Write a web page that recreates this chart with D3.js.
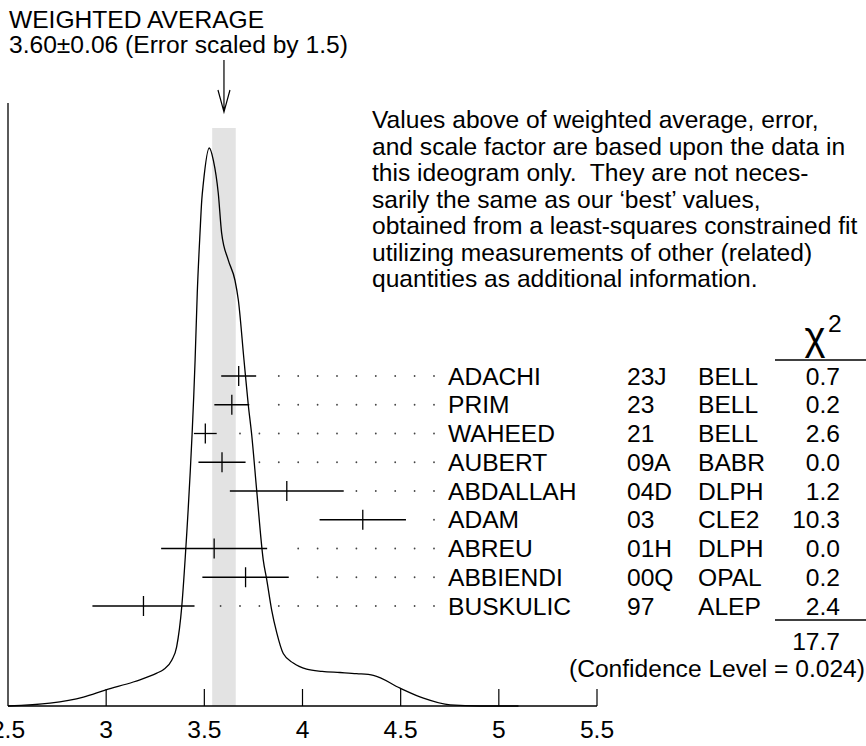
<!DOCTYPE html>
<html>
<head>
<meta charset="utf-8">
<script src="https://cdn.jsdelivr.net/npm/d3@7"></script>
<style>
  body { margin: 0; background: #fff; }
  svg { display: block; }
  text { font-family: "Liberation Sans", Arial, Helvetica, sans-serif; font-size: 24.6px; fill: #000; white-space: pre; }
</style>
</head>
<body>
<svg id="ideogram" width="866" height="746"></svg>
<script>
// measurements (value, error) as drawn in the ideogram
const authors = ["ADACHI", "PRIM", "WAHEED", "AUBERT", "ABDALLAH", "ADAM", "ABREU", "ABBIENDI", "BUSKULIC"];
const years = ["23J", "23", "21", "09A", "04D", "03", "01H", "00Q", "97"];
const experiments = ["BELL", "BELL", "BELL", "BABR", "DLPH", "CLE2", "DLPH", "OPAL", "ALEP"];
const values = [3.675, 3.64, 3.505, 3.59, 3.92, 4.307, 3.55, 3.71, 3.19];
const errors = [0.089, 0.089, 0.058, 0.12, 0.29, 0.22, 0.27, 0.22, 0.26];
const chi2 = ["0.7", "0.2", "2.6", "0.0", "1.2", "10.3", "0.0", "0.2", "2.4"];
const chi2Total = "17.7";
const confidence = "(Confidence Level = 0.024)";

const average = 3.60;
const averageError = 0.06;
const titleLines = ["WEIGHTED AVERAGE", "3.60\u00b10.06 (Error scaled by 1.5)"];
const note = [
  "Values above of weighted average, error,",
  "and scale factor are based upon the data in",
  "this ideogram only.  They are not neces-",
  "sarily the same as our \u2018best\u2019 values,",
  "obtained from a least-squares constrained fit",
  "utilizing measurements of other (related)",
  "quantities as additional information."
];

// ideogram curve (x value, height relative to peak)
const curveX = [2.5, 2.714, 2.884, 2.999, 3.138, 3.172, 3.258, 3.291, 3.334, 3.359, 3.385, 3.402, 3.453, 3.464, 3.478, 3.487, 3.495, 3.525,
  3.546, 3.571, 3.588, 3.622, 3.656, 3.673, 3.702, 3.724, 3.741, 3.767, 3.800, 3.818, 3.843, 3.869, 3.902, 3.953, 4.021,
  4.100, 4.191, 4.276, 4.361, 4.497, 4.616, 4.752, 4.904, 5.1];
const curveY = [0, 0.005, 0.016, 0.029, 0.043, 0.047, 0.059, 0.065, 0.082, 0.106, 0.178, 0.262, 0.620, 0.740, 0.848, 0.907, 0.937, 1.0,
  0.978, 0.919, 0.848, 0.799, 0.763, 0.728, 0.620, 0.539, 0.487, 0.385, 0.262, 0.226, 0.172, 0.131, 0.094, 0.077, 0.066,
  0.062, 0.060, 0.058, 0.055, 0.032, 0.014, 0.002, 0, 0];

const xTicks = [2.5, 3, 3.5, 4, 4.5, 5, 5.5];

const svg = d3.select("#ideogram");

const x = d3.scaleLinear().domain([2.5, 5.5]).range([8, 597]);
const y = d3.scaleLinear().domain([0, 1]).range([706, 148]);
const row = d3.scalePoint().domain(authors).range([376, 606]);
const axisY = y(0);

// shaded band of the weighted average
svg.append("rect")
  .attr("x", x(average - averageError))
  .attr("y", 128)
  .attr("width", x(average + averageError) - x(average - averageError))
  .attr("height", axisY - 128)
  .attr("fill", "#e3e3e3");

// title and arrow
svg.selectAll("text.title")
  .data(titleLines)
  .enter().append("text")
  .attr("class", "title")
  .attr("x", 9)
  .attr("y", (_, i) => 28 + 24.5 * i)
  .text(d => d);

const ax = x(average);
svg.append("path")
  .attr("d", `M${ax},60 L${ax},112 M${ax - 6},90 L${ax},112 L${ax + 6},90`)
  .attr("fill", "none")
  .attr("stroke", "#000")
  .attr("stroke-width", 1.2);

// axes
svg.append("line")
  .attr("x1", x(2.5)).attr("x2", x(2.5))
  .attr("y1", 103).attr("y2", axisY)
  .attr("stroke", "#000").attr("stroke-width", 1.3);

svg.append("line")
  .attr("x1", x(2.5)).attr("x2", x(5.5))
  .attr("y1", axisY).attr("y2", axisY)
  .attr("stroke", "#000").attr("stroke-width", 1.3);

svg.selectAll("line.tick")
  .data(xTicks.slice(1))
  .enter().append("line")
  .attr("class", "tick")
  .attr("x1", d => x(d)).attr("x2", d => x(d))
  .attr("y1", axisY - 17).attr("y2", axisY)
  .attr("stroke", "#000").attr("stroke-width", 1.2);

svg.selectAll("text.ticklabel")
  .data(xTicks)
  .enter().append("text")
  .attr("class", "ticklabel")
  .attr("x", d => x(d))
  .attr("y", 738)
  .attr("text-anchor", "middle")
  .text(d => d);

// ideogram curve
const line = d3.line()
  .x(d => x(d[0]))
  .y(d => y(d[1]))
  .curve(d3.curveMonotoneX);

svg.append("path")
  .datum(d3.zip(curveX, curveY))
  .attr("d", line)
  .attr("fill", "none")
  .attr("stroke", "#000")
  .attr("stroke-width", 1.3);

// dotted leaders, error bars
const nameX = 448;
const lastDot = nameX - 14;
const dotStep = 19.4;

authors.forEach((a, i) => {
  const yy = row(a);
  const right = x(values[i] + errors[i]);
  const dots = [];
  for (let dx = lastDot; dx > right + 12; dx -= dotStep) dots.push(dx);
  svg.selectAll(null)
    .data(dots)
    .enter().append("circle")
    .attr("cx", d => d)
    .attr("cy", yy)
    .attr("r", 0.9)
    .attr("fill", "#444");

  svg.append("line")
    .attr("x1", x(values[i] - errors[i])).attr("x2", right)
    .attr("y1", yy).attr("y2", yy)
    .attr("stroke", "#000").attr("stroke-width", 1.3);
  svg.append("line")
    .attr("x1", x(values[i])).attr("x2", x(values[i]))
    .attr("y1", yy - 10).attr("y2", yy + 10)
    .attr("stroke", "#000").attr("stroke-width", 1.3);
});

// table columns
const cols = [
  { data: authors, x: nameX, anchor: "start" },
  { data: years, x: 627, anchor: "start" },
  { data: experiments, x: 698, anchor: "start" },
  { data: chi2, x: 840, anchor: "end" }
];
cols.forEach(c => {
  svg.selectAll(null)
    .data(c.data)
    .enter().append("text")
    .attr("x", c.x)
    .attr("y", (_, i) => row(authors[i]) + 8.6)
    .attr("text-anchor", c.anchor)
    .text(d => d);
});

// chi^2 header and totals
svg.append("text")
  .attr("x", 815).attr("y", 350)
  .attr("text-anchor", "middle")
  .style("font-size", "40px")
  .text("\u03c7");
svg.append("text")
  .attr("x", 828).attr("y", 332)
  .text("2");

svg.append("line")
  .attr("x1", 775).attr("x2", 866).attr("y1", 360).attr("y2", 360)
  .attr("stroke", "#000").attr("stroke-width", 1.3);
svg.append("line")
  .attr("x1", 775).attr("x2", 866).attr("y1", 620).attr("y2", 620)
  .attr("stroke", "#000").attr("stroke-width", 1.3);

svg.append("text")
  .attr("x", 840).attr("y", 650)
  .attr("text-anchor", "end")
  .text(chi2Total);
svg.append("text")
  .attr("x", 865).attr("y", 677)
  .attr("text-anchor", "end")
  .text(confidence);

// note
svg.selectAll("text.note")
  .data(note)
  .enter().append("text")
  .attr("class", "note")
  .attr("x", 372)
  .attr("y", (_, i) => 128.3 + 26.5 * i)
  .text(d => d);
</script>
</body>
</html>
